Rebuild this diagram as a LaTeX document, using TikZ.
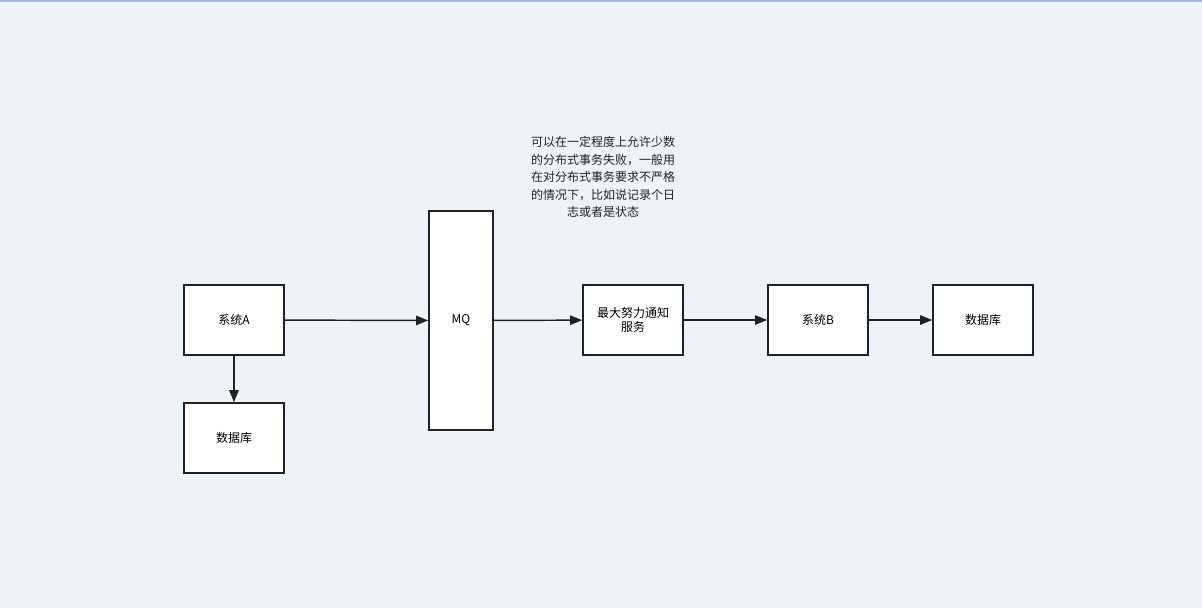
\documentclass[tikz,border=0pt]{standalone}
\usepackage{fontspec}
\setmainfont{Noto Sans CJK SC}
\usetikzlibrary{arrows.meta}
\definecolor{bg}{HTML}{EEF2F9}
\definecolor{ln}{HTML}{222222}
\begin{document}
\begin{tikzpicture}[x=0.75pt,y=-0.75pt,
  box/.style={draw=ln,line width=1.2pt,fill=white,minimum width=75pt,minimum height=52.5pt,inner sep=0pt,font=\fontsize{9}{11}\selectfont,align=center},
  arr/.style={draw=ln,line width=1.1pt,-{Triangle[length=9pt,width=7pt]}}]
\fill[bg] (0,0) rectangle (1202,608);
\useasboundingbox (0,0) rectangle (1202,608);
\draw[color={rgb,255:red,160;green,185;blue,225},line width=1pt] (0,1) -- (1202,1);
\node[box] (a) at (234,320) {系统A};
\node[box] (dba) at (234,438) {数据库};
\node[box,minimum width=48pt,minimum height=164pt] (mq) at (461,320.5) {MQ};
\node[box] (n) at (633,320) {最大努力通知\\服务};
\node[box] (b) at (818,320) {系统B};
\node[box] (dbb) at (983,320) {数据库};
\node[font=\fontsize{9}{13.2}\selectfont,align=center,text=ln] (t) at (603,177) {可以在一定程度上允许少数\\的分布式事务失败，一般用\\在对分布式事务要求不严格\\的情况下，比如说记录个日\\志或者是状态};
\draw[arr] (a) -- (mq);
\draw[arr] (a) -- (dba);
\draw[arr] (mq) -- (n);
\draw[arr] (n) -- (b);
\draw[arr] (b) -- (dbb);
\end{tikzpicture}
\end{document}
